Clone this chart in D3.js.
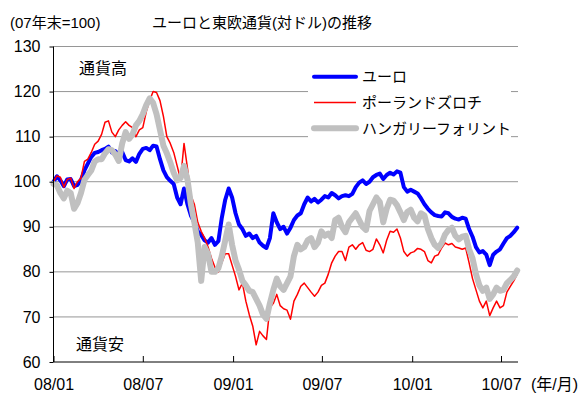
<!DOCTYPE html>
<html>
<head>
<meta charset="utf-8">
<script src="https://cdn.jsdelivr.net/npm/d3@7"></script>
<style>
  html, body { margin: 0; padding: 0; background: #fff; }
  svg { display: block; }
  text { font-family: "Liberation Sans", Arial, "Noto Sans CJK JP", sans-serif; fill: #000; }
  .jp { font-family: "Noto Sans CJK JP", "Liberation Sans", sans-serif; }
</style>
</head>
<body>
<svg id="chart" width="587" height="396"></svg>
<script>
// Weekly index values (end of 2007 = 100), starting the first week of 2008
const startDate = "2008-01-01";

const euro = [
  100.0, 101.2, 100.3, 99.0, 100.5, 100.6, 99.0, 99.3, 100.4, 102.5,
  104.0, 105.5, 106.4, 106.6, 107.0, 107.3, 107.8, 106.5, 106.8, 106.0,
  106.6, 104.8, 104.5, 105.2, 104.4, 106.2, 107.3, 107.5, 107.0, 108.0,
  107.8, 105.0, 102.5, 101.0, 100.2, 99.5, 96.5, 95.0, 98.5, 95.0,
  92.5, 91.0, 89.0, 88.2, 87.0, 86.5, 87.5, 86.0, 86.8, 92.0,
  96.0, 98.5, 96.5, 93.0, 90.5, 89.5, 88.0, 88.5, 87.5, 88.0,
  86.5, 85.8, 85.3, 87.5, 93.0, 91.0, 89.5, 90.0, 88.5, 89.8,
  91.5, 92.5, 93.0, 95.0, 96.5, 95.6, 96.2, 95.4, 96.0, 96.8,
  96.5, 97.5, 97.0, 96.3, 96.8, 97.0, 96.8, 97.3, 98.8, 99.8,
  100.3, 99.5, 100.0, 101.0, 101.5, 101.8, 100.6, 101.5, 102.0, 101.6,
  102.3, 102.0, 98.8, 97.8, 98.2, 97.8, 97.4, 96.3, 95.0, 94.0,
  93.2, 92.6, 92.4, 92.3, 93.2, 93.0, 92.2, 91.8, 91.6, 92.0,
  91.8, 89.5, 87.8, 85.5, 84.3, 84.6, 83.8, 81.5, 83.8, 84.5,
  85.0, 86.3, 87.5, 88.0, 88.8, 89.8
];

const zloty = [
  100.0, 101.3, 101.0, 98.8, 100.5, 100.8, 98.5, 100.0, 100.8, 104.5,
  105.0, 106.5, 108.3, 109.0, 110.5, 113.2, 113.5, 111.0, 110.0, 111.5,
  112.5, 113.3, 112.5, 112.0, 110.0, 111.5, 112.0, 115.5, 118.0, 120.0,
  119.8, 118.0, 114.5, 110.0, 108.5, 106.5, 103.5, 100.5, 108.5, 103.0,
  97.0, 95.0, 91.0, 89.0, 87.5, 85.5, 83.0, 81.0, 80.0, 82.0,
  84.0, 84.0, 81.5, 79.0, 76.0, 77.5, 73.5, 70.5, 68.0, 63.8,
  66.8, 65.8, 65.0, 72.0, 73.0, 75.0, 72.5, 71.8, 71.5, 69.5,
  73.5, 75.0, 76.8, 77.5, 76.5, 75.5, 74.6, 75.5, 77.0, 77.5,
  79.5, 82.0, 83.5, 84.5, 84.5, 82.5, 85.5, 86.0, 85.0, 86.0,
  86.5, 84.8, 84.5, 85.0, 87.3, 86.0, 84.2, 87.0, 89.0, 88.8,
  89.5, 87.5, 84.5, 83.5, 84.2, 84.5, 85.2, 85.0, 84.5, 82.5,
  82.0, 83.5, 83.8, 85.3, 86.4, 86.0, 86.3, 85.5, 85.3, 85.0,
  85.3, 82.0, 78.5, 76.0, 73.5, 72.0, 73.5, 70.3, 72.0, 73.5,
  72.0, 72.5, 75.5, 76.8, 78.0, 79.5
];

const forint = [
  99.5, 99.2, 97.5, 96.3, 98.0, 97.5, 94.0, 95.3, 97.5, 100.4,
  101.5, 102.5, 104.5, 105.0, 105.0, 106.3, 107.2, 107.0, 106.0, 104.6,
  108.5, 111.0, 109.5, 110.5, 112.5, 113.5, 115.0, 117.0, 118.5, 117.5,
  115.0, 111.5, 108.0, 106.3, 104.3, 102.0, 100.3, 100.8, 103.5, 100.5,
  95.0, 91.0, 86.5, 78.0, 85.5, 84.0, 80.0, 80.0, 80.8, 83.5,
  87.0, 90.5, 86.0, 82.5, 80.5, 78.0, 77.0, 75.8, 75.5, 74.0,
  72.5, 70.5, 69.6, 73.0, 76.0, 78.5, 76.8, 76.0, 77.5, 79.0,
  83.5, 86.0, 85.0, 85.5, 87.0, 87.5, 85.5, 86.5, 89.0, 88.0,
  88.5, 87.5, 91.5, 92.0, 90.0, 88.8, 91.0, 92.0, 93.0, 91.5,
  90.0, 89.3, 93.5, 95.0, 96.5, 95.5, 91.0, 94.0, 96.0, 95.8,
  94.8, 93.2, 91.5, 93.3, 93.8, 92.0, 91.2, 93.0, 92.5, 89.5,
  87.5, 86.0, 85.3, 86.4, 88.3, 89.3, 89.8, 88.0, 87.2, 87.8,
  88.0, 85.0, 83.0, 79.5, 77.0, 75.8, 76.5, 74.0, 75.0, 76.5,
  75.8, 76.0, 77.5, 78.2, 79.0, 80.3
];

const seriesNames = ["ユーロ", "ポーランドズロチ", "ハンガリーフォリント"];
const seriesColors = ["#0000ff", "#ff0000", "#c0c0c0"];
const seriesWidths = [4, 1.5, 6];

const tickDates = ["2008-01-01", "2008-07-01", "2009-01-01", "2009-07-01", "2010-01-01", "2010-07-01"];
const tickLabels = ["08/01", "08/07", "09/01", "09/07", "10/01", "10/07"];
const yTicks = [60, 70, 80, 90, 100, 110, 120, 130];

const parse = d3.utcParse("%Y-%m-%d");
const t0 = parse(startDate);
const dates = euro.map((_, i) => d3.utcDay.offset(t0, i * 7));

const plotL = 53.5, plotR = 518, plotT = 46.5, plotB = 362;

const x = d3.scaleUtc()
  .domain([parse("2008-01-01"), parse("2010-07-01")])
  .range([plotL, 501]);
const y = d3.scaleLinear().domain([60, 130]).range([plotB, plotT]);

const svg = d3.select("#chart");

// horizontal grid (including top border at 130)
svg.append("g")
  .selectAll("line")
  .data(yTicks.filter(v => v > 60))
  .join("line")
  .attr("x1", plotL).attr("x2", plotR)
  .attr("y1", d => y(d)).attr("y2", d => y(d))
  .attr("stroke", "#969696").attr("stroke-width", 1);

// series lines
const line = d3.line()
  .x((d, i) => x(dates[i]))
  .y(d => y(d));

[euro, zloty, forint].forEach((vals, k) => {
  svg.append("path")
    .datum(vals)
    .attr("d", line)
    .attr("fill", "none")
    .attr("stroke", seriesColors[k])
    .attr("stroke-width", seriesWidths[k])
    .attr("stroke-linejoin", "round")
    .attr("stroke-linecap", "round");
});

// left axis
const yAxis = d3.axisLeft(y).tickValues(yTicks).tickSize(4).tickPadding(9);
const gy = svg.append("g").attr("transform", `translate(${plotL},0)`).call(yAxis);
gy.select(".domain").attr("stroke", "#000").attr("d", `M0,${plotT}V${plotB}`);
gy.selectAll(".tick line").attr("stroke", "#000");
gy.selectAll(".tick text").attr("font-size", 16).attr("fill", "#000")
  .attr("font-family", "Liberation Sans, Arial, sans-serif");

// bottom axis, ticks pointing inward
const xAxis = d3.axisBottom(x)
  .tickValues(tickDates.map(parse))
  .tickFormat((d, i) => tickLabels[i])
  .tickSize(-6).tickPadding(17);
const gx = svg.append("g").attr("transform", `translate(0,${plotB})`).call(xAxis);
gx.select(".domain").attr("stroke", "#000").attr("d", `M${plotL},0H${plotR}`);
gx.selectAll(".tick line").attr("stroke", "#000");
gx.selectAll(".tick text").attr("font-size", 16).attr("fill", "#000")
  .attr("font-family", "Liberation Sans, Arial, sans-serif");

// legend (white box over the grid)
const lg = svg.append("g");
lg.append("rect").attr("x", 308).attr("y", 60).attr("width", 203).attr("height", 82).attr("fill", "#fff");
seriesNames.forEach((name, k) => {
  const yy = 76.7 + k * 25.8;
  lg.append("line")
    .attr("x1", 314).attr("x2", 356).attr("y1", yy).attr("y2", yy)
    .attr("stroke", seriesColors[k]).attr("stroke-width", seriesWidths[k])
    .attr("stroke-linecap", k === 1 ? "butt" : "round");
  lg.append("text").attr("class", "jp")
    .attr("x", 362).attr("y", yy).attr("dy", "0.36em")
    .attr("font-size", 15).text(name);
});

// titles and notes
svg.append("text").attr("x", 10).attr("y", 28)
  .attr("font-size", 15).text("(07年末=100)");
svg.append("text").attr("x", 152).attr("y", 28)
  .attr("font-size", 15).text("ユーロと東欧通貨(対ドル)の推移");
svg.append("text").attr("class", "jp").attr("x", 79).attr("y", 74)
  .attr("font-size", 16).text("通貨高");
svg.append("text").attr("class", "jp").attr("x", 76).attr("y", 350)
  .attr("font-size", 16).text("通貨安");
svg.append("text").attr("x", 531).attr("y", 390)
  .attr("font-size", 16).text("(年/月)");
</script>
</body>
</html>
